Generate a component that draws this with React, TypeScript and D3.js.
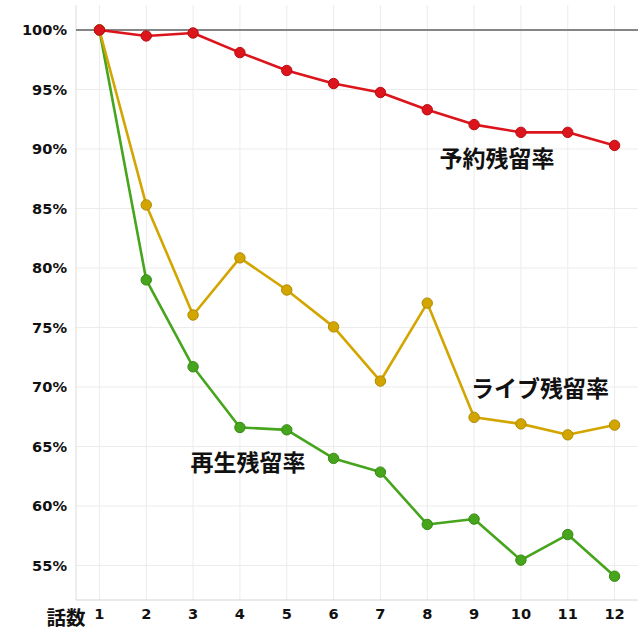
import React from "react";
import * as d3 from "d3";

const episodes = [1, 2, 3, 4, 5, 6, 7, 8, 9, 10, 11, 12];
const reservation = [100, 99.5, 99.75, 98.1, 96.6, 95.5, 94.75, 93.3, 92.05, 91.4, 91.4, 90.3];
const live = [100, 85.3, 76.05, 80.85, 78.15, 75.05, 70.5, 77.05, 67.45, 66.9, 65.98, 66.8];
const replay = [100, 79.0, 71.7, 66.6, 66.4, 64.0, 62.85, 58.45, 58.9, 55.45, 57.6, 54.1];
const yTicks = [55, 60, 65, 70, 75, 80, 85, 90, 95, 100];

const seriesList = [
  { name: "予約残留率", values: reservation, color: "#dc141c", stroke: "#b80c12", lx: 497, ly: 159 },
  { name: "ライブ残留率", values: live, color: "#d2a500", stroke: "#b08a00", lx: 540, ly: 389 },
  { name: "再生残留率", values: replay, color: "#46a51c", stroke: "#348a12", lx: 248, ly: 463 },
];

export default function App() {
  const W = 640, H = 640;
  const left = 76, right = 638, top = 5, bottom = 600;
  const x = d3.scalePoint<number>().domain(episodes).range([left, right]).padding(0.5);
  const y = d3.scaleLinear().domain([52.1, 102.1]).range([bottom, top]);
  const line = d3.line<number>().x((_, i) => x(episodes[i])!).y((d) => y(d));
  const font = "'DejaVu Sans', Verdana, sans-serif";
  const jp = "'Noto Sans CJK JP', sans-serif";
  return (
    <svg width={W} height={H} style={{ position: "absolute", left: 0, top: 0, background: "#fff" }}>
      {episodes.map((e) => (
        <line key={"vx" + e} x1={x(e)} x2={x(e)} y1={top} y2={bottom} stroke="#ececec" strokeWidth={1} />
      ))}
      {yTicks.filter((t) => t !== 100).map((t) => (
        <line key={"hy" + t} x1={left} x2={right} y1={y(t)} y2={y(t)} stroke="#ececec" strokeWidth={1} />
      ))}
      <line x1={left} x2={left} y1={top} y2={bottom} stroke="#dcdcdc" strokeWidth={1} />
      <line x1={left} x2={right} y1={bottom} y2={bottom} stroke="#d4d4d4" strokeWidth={1} />
      <line x1={left} x2={right} y1={y(100)} y2={y(100)} stroke="#858585" strokeWidth={2} />
      {yTicks.map((t) => (
        <text key={"yl" + t} x={67} y={y(t)} dy="0.35em" textAnchor="end" fontFamily={font} fontWeight="bold" fontSize={14.6} fill="#111">
          {t}%
        </text>
      ))}
      {episodes.map((e) => (
        <text key={"xl" + e} x={x(e)} y={614} dy="0.35em" textAnchor="middle" fontFamily={font} fontWeight="bold" fontSize={14.6} fill="#111">
          {e}
        </text>
      ))}
      <text x={66} y={618} dy="0.35em" textAnchor="middle" fontFamily={jp} fontWeight="bold" fontSize={19.5} fill="#111">話数</text>
      {seriesList.slice().reverse().map((s) => (
        <g key={s.name}>
          <path d={line(s.values)!} fill="none" stroke={s.color} strokeWidth={2.6} strokeLinejoin="round" />
          {s.values.map((v, i) => (
            <circle key={i} cx={x(episodes[i])} cy={y(v)} r={5.2} fill={s.color} stroke={s.stroke} strokeWidth={1} />
          ))}
        </g>
      ))}
      {seriesList.map((s) => (
        <text key={"lab" + s.name} x={s.lx} y={s.ly} dy="0.36em" textAnchor="middle" fontFamily={jp} fontWeight="bold" fontSize={23} fill="#111">
          {s.name}
        </text>
      ))}
    </svg>
  );
}
